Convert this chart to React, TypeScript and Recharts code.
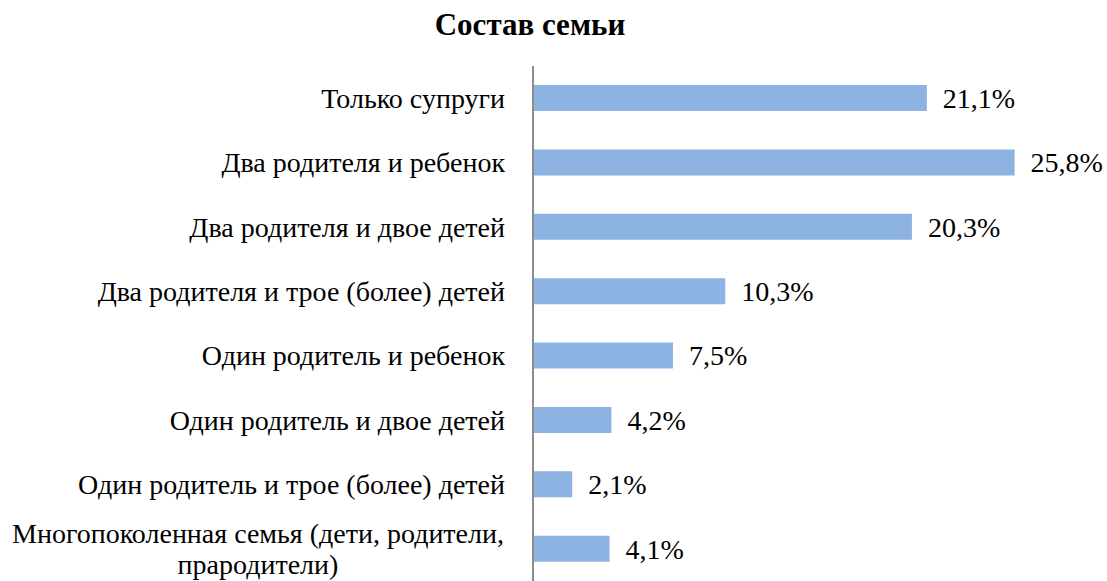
import { Bar, BarChart, LabelList, XAxis, YAxis } from "recharts";

const categories = [
  "Только супруги",
  "Два родителя и ребенок",
  "Два родителя и двое детей",
  "Два родителя и трое (более) детей",
  "Один родитель и ребенок",
  "Один родитель и двое детей",
  "Один родитель и трое (более) детей",
  "Многопоколенная семья (дети, родители,\nпрародители)"
];

const shares = [21.1, 25.8, 20.3, 10.3, 7.5, 4.2, 2.1, 4.1];

const data = categories.map((name, i) => ({ name, value: shares[i] }));

const serif = "Liberation Serif";
const fs = 28;

// multi-line labels are centred under their widest line
function CategoryTick(props: any) {
  const { x, y, payload } = props;
  const lines: string[] = String(payload.value).split("\n");
  const right = x - 26;
  if (lines.length === 1) {
    return (
      <text x={right} y={y} dy="0.35em" textAnchor="end" fontFamily={serif} fontSize={fs} fill="#000">
        {lines[0]}
      </text>
    );
  }
  const cx = right - 247;
  const lh = 31;
  return (
    <text textAnchor="middle" fontFamily={serif} fontSize={fs} fill="#000">
      {lines.map((l, i) => (
        <tspan key={i} x={cx} y={y + (i - (lines.length - 1) / 2) * lh} dy="0.35em">
          {l}
        </tspan>
      ))}
    </text>
  );
}

export default function App() {
  return (
    <div style={{ position: "absolute", left: 0, top: 0, width: 1107, height: 581, background: "#fff" }}>
      <div
        style={{
          position: "absolute",
          left: 0,
          width: 1060,
          top: 7,
          textAlign: "center",
          fontFamily: serif,
          fontWeight: "bold",
          fontSize: 31,
          lineHeight: "36px"
        }}
      >
        Состав семьи
      </div>
      <BarChart
        width={1107}
        height={581}
        data={data}
        layout="vertical"
        margin={{ top: 66, right: 14, bottom: 0, left: 0 }}
      >
        <XAxis type="number" domain={[0, 30]} hide />
        <YAxis
          type="category"
          dataKey="name"
          width={533}
          tickLine={false}
          tickSize={0}
          axisLine={{ stroke: "#8c8c8c", strokeWidth: 2 }}
          tick={<CategoryTick />}
          interval={0}
        />
        <Bar dataKey="value" fill="#8db3e2" barSize={26} isAnimationActive={false}>
          <LabelList
            dataKey="value"
            position="right"
            offset={16}
            formatter={(v: any) => `${String(v).replace(".", ",")}%`}
            style={{ fontFamily: serif, fontSize: fs, fill: "#000" }}
          />
        </Bar>
      </BarChart>
    </div>
  );
}
